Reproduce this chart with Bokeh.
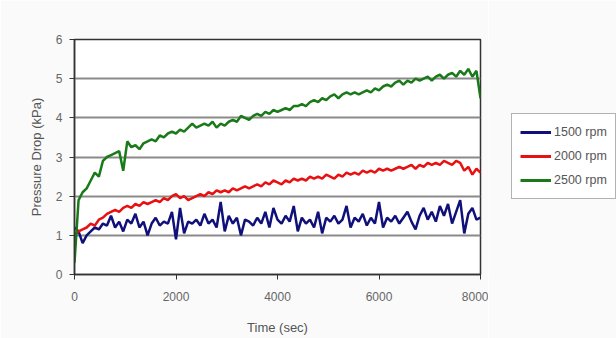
from bokeh.plotting import figure
from bokeh.models import Legend, LegendItem, Range1d, FixedTicker
from bokeh.layouts import row
from bokeh.embed import file_html
from bokeh.resources import INLINE

series_names = ["1500 rpm", "2000 rpm", "2500 rpm"]
series_colors = ["#10107a", "#e81010", "#1a7a1a"]

rpm1500 = [1.2, 1.1, 0.8, 1.0, 1.1, 1.2, 1.15, 1.3, 1.25, 1.5,
           1.2, 1.35, 1.1, 1.4, 1.3, 1.55, 1.2, 1.35, 1.0, 1.3,
           1.45, 1.25, 1.35, 1.3, 1.6, 0.9, 1.7, 1.05, 1.35, 1.3,
           1.4, 1.25, 1.55, 1.3, 1.4, 1.2, 1.85, 1.1, 1.5, 1.3,
           1.45, 1.0, 1.4, 1.35, 1.25, 1.45, 1.3, 1.6, 1.2, 1.7,
           1.4, 1.3, 1.5, 1.35, 1.75, 1.1, 1.45, 1.3, 1.4, 1.2,
           1.6, 1.05, 1.45, 1.35, 1.5, 1.3, 1.4, 1.75, 1.2, 1.45,
           1.35, 1.55, 1.25, 1.45, 1.3, 1.85, 1.2, 1.45, 1.35, 1.5,
           1.3, 1.45, 1.6, 1.35, 1.15, 1.5, 1.7, 1.4, 1.6, 1.35,
           1.75, 1.5, 1.8, 1.3, 1.6, 1.9, 1.05, 1.55, 1.7, 1.4,
           1.45]

rpm2000 = [1.0, 1.1, 1.15, 1.2, 1.3, 1.25, 1.4, 1.45, 1.55, 1.6,
           1.65, 1.6, 1.7, 1.75, 1.7, 1.8, 1.75, 1.85, 1.8, 1.85,
           1.9, 1.85, 1.95, 1.9, 2.0, 2.05, 1.95, 2.0, 1.9, 1.95,
           2.0, 2.05, 2.0, 2.1, 2.05, 2.15, 2.1, 2.15, 2.1, 2.2,
           2.15, 2.2, 2.25, 2.2, 2.25, 2.3, 2.25, 2.35, 2.3, 2.4,
           2.35, 2.3, 2.4, 2.35, 2.45, 2.4, 2.45, 2.4, 2.5, 2.45,
           2.5, 2.45, 2.55, 2.5, 2.45, 2.55, 2.5, 2.6, 2.55, 2.6,
           2.55, 2.65, 2.6, 2.65, 2.6, 2.7, 2.65, 2.7, 2.65, 2.7,
           2.75, 2.7, 2.75, 2.8, 2.7, 2.8, 2.75, 2.85, 2.8, 2.85,
           2.8, 2.9, 2.85, 2.8, 2.9, 2.85, 2.65, 2.75, 2.55, 2.7,
           2.6]

rpm2500 = [0.3, 1.9, 2.1, 2.2, 2.4, 2.6, 2.5, 2.9, 3.0, 3.05,
           3.1, 3.15, 2.65, 3.4, 3.25, 3.3, 3.2, 3.35, 3.4, 3.45,
           3.4, 3.55, 3.5, 3.6, 3.65, 3.6, 3.7, 3.65, 3.75, 3.85,
           3.75, 3.8, 3.85, 3.8, 3.9, 3.75, 3.85, 3.8, 3.9, 3.95,
           3.9, 4.05, 4.0, 3.95, 4.05, 4.1, 4.05, 4.15, 4.1, 4.2,
           4.15, 4.2, 4.25, 4.2, 4.3, 4.3, 4.35, 4.3, 4.4, 4.45,
           4.4, 4.5, 4.45, 4.55, 4.6, 4.5, 4.6, 4.65, 4.6, 4.65,
           4.6, 4.65, 4.7, 4.65, 4.75, 4.7, 4.8, 4.85, 4.8, 4.9,
           4.95, 4.85, 4.95, 4.9, 5.0, 4.95, 5.0, 5.05, 4.95, 5.05,
           5.1, 5.0, 5.1, 5.15, 5.05, 5.2, 5.1, 5.25, 5.05, 5.2,
           4.5]

sample_step = 80
time_sec = [i * sample_step for i in range(len(rpm2500))]

x_ticks = [0, 2000, 4000, 6000, 8000]
y_ticks = [0, 1, 2, 3, 4, 5, 6]

BG = "#fafafa"
H = 338

p = figure(width=488, height=H, output_backend="svg", toolbar_location=None,
           x_range=Range1d(0, 8000), y_range=Range1d(0, 6),
           min_border_left=74, min_border_right=8, min_border_top=39, min_border_bottom=64)
p.background_fill_color = "#ffffff"
p.border_fill_color = BG
p.outline_line_color = "#333333"
p.outline_line_width = 1.5

p.xgrid.grid_line_color = None
p.ygrid.grid_line_color = "#8a8a8a"
p.ygrid.grid_line_width = 2

p.xaxis.ticker = FixedTicker(ticks=x_ticks)
p.yaxis.ticker = FixedTicker(ticks=y_ticks)
for ax in (p.xaxis[0], p.yaxis[0]):
    ax.axis_line_color = "#333333"
    ax.axis_line_width = 1.5
    ax.major_tick_line_color = "#333333"
    ax.major_tick_in = 0
    ax.major_tick_out = 5
    ax.minor_tick_line_color = None
    ax.major_label_text_font = "Liberation Sans"
    ax.major_label_text_font_size = "12px"
    ax.major_label_text_color = "#666666"
    ax.axis_label_text_font = "Liberation Sans"
    ax.axis_label_text_font_size = "13px"
    ax.axis_label_text_font_style = "normal"
    ax.axis_label_text_color = "#555555"
p.xaxis.axis_label = "Time (sec)"
p.yaxis.axis_label = "Pressure Drop (kPa)"
p.xaxis.major_label_standoff = 12
p.yaxis.major_label_standoff = 7
p.xaxis.axis_label_standoff = 16
p.yaxis.axis_label_standoff = 9

# legend panel: a separate axis-free figure to the right (avoids frame clipping)
q = figure(width=128, height=H, output_backend="svg", toolbar_location=None,
           x_range=Range1d(0, 8000), y_range=Range1d(-20, -10),
           min_border=0, x_axis_type=None, y_axis_type=None)
q.grid.visible = False
q.outline_line_color = None
q.background_fill_color = BG
q.border_fill_color = BG

items = []
for name, color, vals in zip(series_names, series_colors, [rpm1500, rpm2000, rpm2500]):
    p.line(time_sec, vals, line_color=color, line_width=2.5)
    proxy = q.line(time_sec, vals, line_color=color, line_width=3)  # off-screen proxy for legend
    items.append(LegendItem(label=name, renderers=[proxy]))

legend = Legend(items=items, location=(23, 75))
legend.label_text_font = "Liberation Sans"
legend.label_text_font_size = "12.5px"
legend.label_text_color = "#555555"
legend.glyph_width = 31
legend.glyph_height = 20
legend.label_standoff = 3
legend.spacing = 4
legend.padding = 8
legend.margin = 0
legend.border_line_color = "#666666"
legend.border_line_width = 1.2
legend.background_fill_color = "#ffffff"
legend.background_fill_alpha = 1
q.add_layout(legend, "center")

layout = row(p, q, spacing=0)
open("out.html", "w").write(file_html(layout, INLINE))
